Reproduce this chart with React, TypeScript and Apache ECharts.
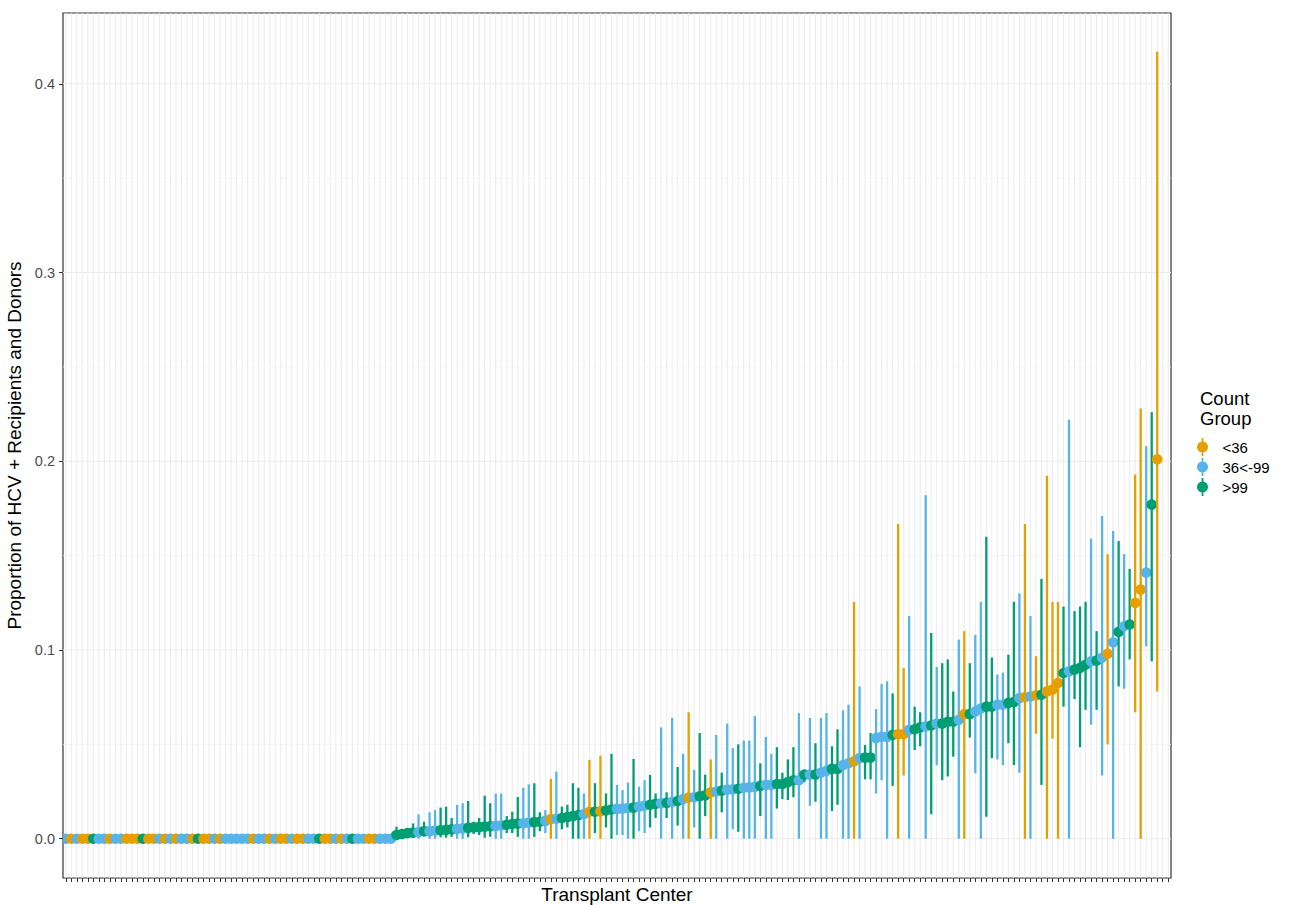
import React, { useEffect, useRef } from "react";
import * as echarts from "echarts";

const FONT = '"Liberation Sans", Arial, Helvetica, sans-serif';

// Count groups (legend order) and their colours
const groupNames = ["<36", "36<-99", ">99"];
const groupColors = ["#E69F00", "#56B4E9", "#009E73"];
const groupCodeIndex: Record<string, number> = { O: 0, B: 1, G: 2 };

// 201 transplant centers on the x axis (the last two have no estimate)
const centerCount = 201;
const centers = Array.from({ length: centerCount }, (_, k) => `Center ${k + 1}`);

// group of each plotted center (O = <36, B = 36<-99, G = >99), in rank order
const groupCodes = (
  "BOBOOGBBOB" + "BOOOGOOBOB" + "OBBOGOOBOB" + "BBBBOBBOBO" + "OBOOBBGOOB" + "OBGBBOOBBB" +
  "GGGGBGBBGG" + "GBBGGGGGBB" + "GGGBBGGBOB" + "GGGGBOGOGG" + "BBBGBBGGBG" + "BGBOBGGOBG" + "BBGBBBG" +
  "BBGGGGBGBG" + "BBGGBBOBGG" + "BBBGOOBGGB" + "GBGGGBOGBB" + "GGBBGGBOBO" + "GOOOGBGGGB" + "GBOBGBGOOB" + "GO"
).split("");

const estimate = [
  0, 0, 0, 0, 0, 0, 0, 0, 0, 0,
  0, 0, 0, 0, 0, 0, 0, 0, 0, 0,
  0, 0, 0, 0, 0, 0, 0, 0, 0, 0,
  0, 0, 0, 0, 0, 0, 0, 0, 0, 0,
  0, 0, 0, 0, 0, 0, 0, 0, 0, 0,
  0, 0, 0, 0, 0, 0, 0, 0, 0, 0,
  0.002, 0.0025, 0.003, 0.0032, 0.0035, 0.004, 0.004, 0.0043, 0.0045, 0.0047,
  0.005, 0.0052, 0.0055, 0.0058, 0.006, 0.0062, 0.0064, 0.0066, 0.0068, 0.007,
  0.0074, 0.0078, 0.008, 0.0082, 0.0085, 0.0088, 0.009, 0.0095, 0.0104, 0.0106,
  0.011, 0.0115, 0.012, 0.0125, 0.013, 0.0143, 0.0143, 0.0145, 0.015, 0.0155,
  0.0158, 0.016, 0.0162, 0.0165, 0.017, 0.0175, 0.018, 0.0185, 0.0188, 0.019,
  0.0195, 0.02, 0.021, 0.0218, 0.022, 0.0225, 0.023, 0.0246, 0.025, 0.0255,
  0.026, 0.0262, 0.0265, 0.027, 0.0272, 0.0275, 0.028, 0.0285, 0.0285, 0.029,
  0.029, 0.03, 0.031, 0.031, 0.034, 0.034, 0.034, 0.035, 0.036, 0.037,
  0.037, 0.039, 0.04, 0.041, 0.0427, 0.043, 0.043, 0.0533, 0.054, 0.054,
  0.055, 0.0554, 0.0554, 0.0577, 0.058, 0.059, 0.0595, 0.06, 0.061, 0.061,
  0.062, 0.062, 0.063, 0.066, 0.066, 0.0674, 0.069, 0.07, 0.07, 0.071,
  0.071, 0.072, 0.0724, 0.0745, 0.075, 0.0754, 0.076, 0.0763, 0.078, 0.079,
  0.0825, 0.0878, 0.0887, 0.0896, 0.0905, 0.0922, 0.094, 0.0944, 0.096, 0.098,
  0.104, 0.1096, 0.1126, 0.1135, 0.125, 0.132, 0.141, 0.177, 0.201,
];

const lower = [
  0, 0, 0, 0, 0, 0, 0, 0, 0, 0,
  0, 0, 0, 0, 0, 0, 0, 0, 0, 0,
  0, 0, 0, 0, 0, 0, 0, 0, 0, 0,
  0, 0, 0, 0, 0, 0, 0, 0, 0, 0,
  0, 0, 0, 0, 0, 0, 0, 0, 0, 0,
  0, 0, 0, 0, 0, 0, 0, 0, 0, 0,
  0, 0.0005, 0.0008, 0.0005, 0, 0.0012, 0, 0, 0.0008, 0.0006,
  0.001, 0, 0, 0.0008, 0.0025, 0.002, 0.0005, 0.001, 0, 0,
  0.003, 0.003, 0.001, 0, 0, 0.001, 0.004, 0.003, 0, 0,
  0.005, 0.006, 0, 0, 0, 0, 0.003, 0, 0.006, 0,
  0.002, 0.002, 0, 0, 0.004, 0.003, 0.006, 0.011, 0, 0.011,
  0, 0.007, 0, 0, 0.006, 0, 0.012, 0, 0, 0.014,
  0, 0.005, 0.0037, 0, 0, 0, 0.012, 0, 0, 0.016,
  0.021, 0.0205, 0.022, 0, 0.03, 0.0175, 0.0196, 0, 0, 0.0147,
  0.018, 0, 0, 0, 0, 0.0315, 0.0315, 0.024, 0.031, 0,
  0.028, 0, 0.0335, 0, 0.047, 0.049, 0, 0.013, 0.039, 0.031,
  0.033, 0.0435, 0, 0, 0.0536, 0.0347, 0, 0.0117, 0.0427, 0.042,
  0.039, 0.0506, 0.039, 0.035, 0, 0, 0.0556, 0.0285, 0, 0.053,
  0, 0.07, 0, 0.074, 0.0485, 0.0683, 0.0604, 0.0683, 0.0335, 0.05,
  0, 0.0807, 0.0795, 0.095, 0.067, 0, 0.102, 0.094, 0.078,
];

const upper = [
  0, 0, 0, 0, 0, 0, 0, 0, 0, 0,
  0, 0, 0, 0, 0, 0, 0, 0, 0, 0,
  0, 0, 0, 0, 0, 0, 0, 0, 0, 0,
  0, 0, 0, 0, 0, 0, 0, 0, 0, 0,
  0, 0, 0, 0, 0, 0, 0, 0, 0, 0,
  0, 0, 0, 0, 0, 0, 0, 0, 0, 0,
  0.0064, 0.0046, 0.0055, 0.0081, 0.0129, 0.009, 0.014, 0.0152, 0.0165, 0.017,
  0.011, 0.0179, 0.0188, 0.02, 0.009, 0.011, 0.0228, 0.0188, 0.0239, 0.0239,
  0.012, 0.0143, 0.0221, 0.027, 0.0288, 0.0294, 0.014, 0.0152, 0.0317, 0.0356,
  0.017, 0.018, 0.0294, 0.027, 0.024, 0.0418, 0.0294, 0.044, 0.024, 0.045,
  0.0285, 0.0258, 0.0297, 0.0423, 0.0276, 0.031, 0.0338, 0.024, 0.059, 0.0246,
  0.064, 0.038, 0.045, 0.067, 0.0365, 0.056, 0.034, 0.042, 0.055, 0.035,
  0.061, 0.048, 0.05, 0.052, 0.052, 0.065, 0.04, 0.054, 0.045, 0.0485,
  0.035, 0.042, 0.0485, 0.0666, 0.0365, 0.064, 0.0506, 0.064, 0.0666, 0.049,
  0.058, 0.068, 0.071, 0.1255, 0.0807, 0.0497, 0.056, 0.0687, 0.082, 0.0834,
  0.077, 0.1667, 0.0905, 0.118, 0.07, 0.067, 0.182, 0.109, 0.091, 0.093,
  0.095, 0.078, 0.1055, 0.11, 0.093, 0.108, 0.1255, 0.16, 0.096, 0.087,
  0.088, 0.0975, 0.1255, 0.13, 0.1667, 0.118, 0.0967, 0.1377, 0.1923, 0.1255,
  0.1255, 0.123, 0.222, 0.1206, 0.123, 0.1255, 0.159, 0.11, 0.171, 0.1508,
  0.163, 0.1577, 0.1508, 0.143, 0.193, 0.228, 0.208, 0.226, 0.417,
];

const yTicks = [0, 0.1, 0.2, 0.3, 0.4];
const yMinorTicks = [0.05, 0.15, 0.25, 0.35];
const yMin = -0.0208;
const yMax = 0.4375;

const legendIcon =
  "path://M14.1,0H15.9V18H14.1Z M15,3.5A5.5,5.5,0,1,1,14.99,3.5Z";

export default function App() {
  const ref = useRef<HTMLDivElement>(null);

  useEffect(() => {
    if (!ref.current) return;
    const chart = echarts.init(ref.current, undefined, { renderer: "svg" });

    const seriesData: number[][][] = [[], [], []];
    estimate.forEach((v, k) => {
      const g = groupCodeIndex[groupCodes[k]];
      seriesData[g].push([k, v, lower[k], upper[k]]);
    });

    const pointRangeSeries = groupNames.map((name, g) => ({
      type: "custom",
      name,
      z: 3,
      clip: true,
      itemStyle: { color: groupColors[g] },
      encode: { x: 0, y: 1 },
      data: seriesData[g],
      renderItem: (params: any, api: any) => {
        const idx = api.value(0);
        const pLo = api.coord([idx, api.value(2)]);
        const pHi = api.coord([idx, api.value(3)]);
        const p = api.coord([idx, api.value(1)]);
        const color = groupColors[g];
        return {
          type: "group",
          children: [
            {
              type: "line",
              z2: idx * 2,
              shape: { x1: pLo[0], y1: pLo[1], x2: pHi[0], y2: pHi[1] },
              style: { stroke: color, lineWidth: 2.3 },
            },
            {
              type: "circle",
              z2: idx * 2 + 1,
              shape: { cx: p[0], cy: p[1], r: 5.3 },
              style: { fill: color },
            },
          ],
        };
      },
    }));

    const option: any = {
      animation: false,
      backgroundColor: "#ffffff",
      textStyle: { fontFamily: FONT },
      grid: {
        left: 63,
        top: 13,
        width: 1108,
        height: 865,
        containLabel: false,
        outerBoundsMode: "none",
        show: true,
        backgroundColor: "#ffffff",
        borderColor: "#333333",
        borderWidth: 1.2,
      },
      xAxis: {
        type: "category",
        data: centers,
        boundaryGap: true,
        name: "Transplant Center",
        nameLocation: "middle",
        nameGap: 7,
        nameTextStyle: { fontSize: 19, color: "#000000", fontFamily: FONT, verticalAlign: "top" },
        axisLine: { show: false, onZero: false },
        axisTick: { show: true, interval: 0, alignWithLabel: true, length: 4, lineStyle: { color: "#333333", width: 1 } },
        axisLabel: { show: false },
        splitLine: { show: false },
      },
      yAxis: {
        type: "value",
        min: yMin,
        max: yMax,
        name: "Proportion of HCV + Recipients and Donors",
        nameLocation: "middle",
        nameGap: 33,
        nameTextStyle: { fontSize: 19, color: "#000000", fontFamily: FONT },
        axisLine: { show: false, onZero: false },
        axisTick: { show: true, length: 4, customValues: yTicks, lineStyle: { color: "#333333", width: 1 } },
        axisLabel: {
          customValues: yTicks,
          formatter: (v: number) => v.toFixed(1),
          color: "#4D4D4D",
          fontSize: 14.5,
          fontFamily: FONT,
          margin: 8,
        },
        splitLine: { show: false },
      },
      legend: {
        orient: "vertical",
        left: 1197,
        top: 438,
        padding: 0,
        itemWidth: 30,
        itemHeight: 18,
        itemGap: 2,
        icon: legendIcon,
        data: groupNames,
        textStyle: { fontSize: 15, color: "#000000", fontFamily: FONT },
        selectedMode: false,
      },
      graphic: [
        {
          type: "text",
          left: 1200,
          top: 388,
          style: {
            text: "Count\nGroup",
            fontSize: 18.5,
            lineHeight: 20,
            fill: "#000000",
            fontFamily: FONT,
          },
        },
      ],
      series: [
        {
          type: "custom",
          name: "vgrid",
          silent: true,
          z: 1,
          clip: true,
          data: centers.map((_, k) => [k, 0]),
          renderItem: (params: any, api: any) => {
            const cs = params.coordSys;
            const x = api.coord([api.value(0), 0])[0];
            return {
              type: "line",
              shape: { x1: x, y1: cs.y, x2: x, y2: cs.y + cs.height },
              style: { stroke: "#EBEBEB", lineWidth: 1 },
            };
          },
        },
        {
          type: "custom",
          name: "hgridMinor",
          silent: true,
          z: 1,
          clip: true,
          data: yMinorTicks.map((v) => [0, v]),
          renderItem: (params: any, api: any) => {
            const cs = params.coordSys;
            const y = api.coord([0, api.value(1)])[1];
            return {
              type: "line",
              shape: { x1: cs.x, y1: y, x2: cs.x + cs.width, y2: y },
              style: { stroke: "#F2F2F2", lineWidth: 0.8 },
            };
          },
        },
        {
          type: "custom",
          name: "hgridMajor",
          silent: true,
          z: 1,
          clip: true,
          data: yTicks.map((v) => [0, v]),
          renderItem: (params: any, api: any) => {
            const cs = params.coordSys;
            const y = api.coord([0, api.value(1)])[1];
            return {
              type: "line",
              shape: { x1: cs.x, y1: y, x2: cs.x + cs.width, y2: y },
              style: { stroke: "#EBEBEB", lineWidth: 1.1 },
            };
          },
        },
        ...pointRangeSeries,
      ],
    };

    chart.setOption(option);
    return () => chart.dispose();
  }, []);

  return (
    <div
      ref={ref}
      style={{ position: "fixed", left: 0, top: 0, width: 1295, height: 905, background: "#ffffff" }}
    />
  );
}
